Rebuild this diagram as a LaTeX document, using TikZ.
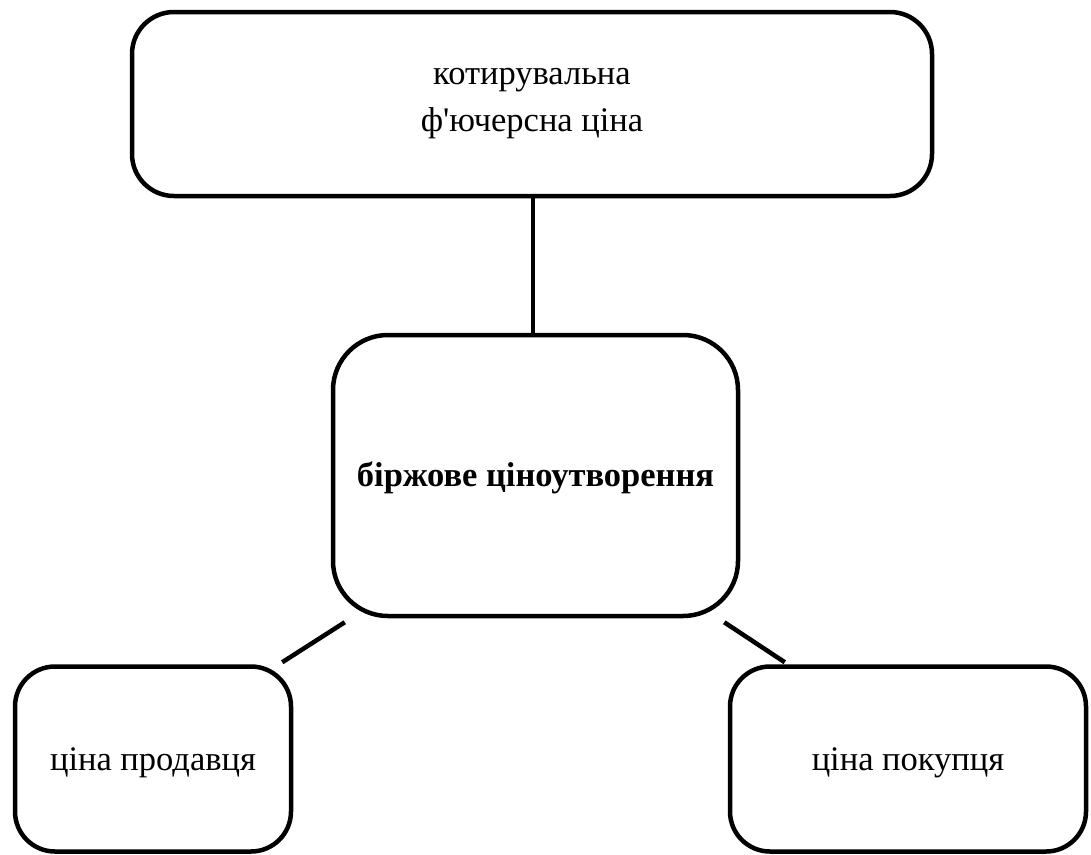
\documentclass[tikz,border=0pt]{standalone}
\usepackage{fontspec}
\setmainfont{Liberation Serif}[Ligatures=TeXOff]
\usetikzlibrary{calc}
\begin{document}
\begin{tikzpicture}[x=1pt,y=-1pt,
  box/.style={draw=black,line width=4.5pt,rounded corners=#1,inner sep=0pt,
    align=center,font=\fontsize{34.5}{47}\selectfont},
  box/.default=40pt,
  link/.style={draw=black,line width=4.5pt}]
\useasboundingbox (0,0) rectangle (1091,854);
% top: quoted futures price
\node[box=42pt,minimum width=800pt,minimum height=184pt] (top) at (532,104)
  {котирувальна\\ф'ючерсна ціна};
% centre: exchange pricing
\node[box=55pt,minimum width=405pt,minimum height=281pt,text depth=2pt] (mid) at (535.5,475.5)
  {\bfseries біржове ціноутворення};
% bottom pair
\node[box=40pt,minimum width=276pt,minimum height=185pt,text depth=0pt] (sell) at (153,759)
  {ціна продавця};
\node[box=40pt,minimum width=356pt,minimum height=185pt,text depth=0pt] (buy) at (908,759)
  {ціна покупця};
% connectors
\draw[link] ($(top.south)+(1,0)$) -- ($(mid.north)+(-2.5,0)$);
\draw[link] ($(mid.south west)+(14,4)$) -- ($(sell.north east)+(-11,-2)$);
\draw[link] ($(mid.south east)+(-16,4)$) -- ($(buy.north west)+(57,-2)$);
\end{tikzpicture}
\end{document}
